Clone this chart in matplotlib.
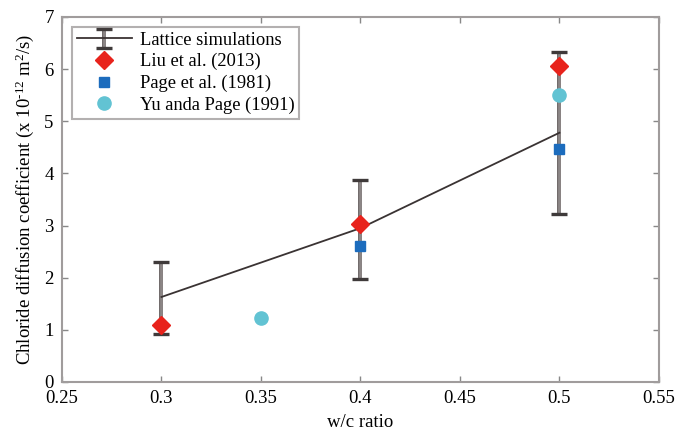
import matplotlib
matplotlib.use("Agg")
import matplotlib.pyplot as plt
import matplotlib.patheffects as pe

plt.rcParams['font.family'] = ['Liberation Serif', 'DejaVu Serif']
plt.rcParams['mathtext.fontset'] = 'custom'
plt.rcParams['mathtext.rm'] = 'Liberation Serif'
plt.rcParams['mathtext.it'] = 'Liberation Serif:italic'

# Lattice simulation results with error ranges
wc_sim = [0.3, 0.4, 0.5]
d_sim = [1.63, 2.95, 4.78]
d_sim_low = [0.92, 1.98, 3.22]
d_sim_high = [2.30, 3.87, 6.33]

# Experimental data
wc_liu = [0.3, 0.4, 0.5]
d_liu = [1.09, 3.03, 6.05]
wc_page = [0.4, 0.5]
d_page = [2.60, 4.47]
wc_yu = [0.35, 0.5]
d_yu = [1.23, 5.50]

xticks = [0.25, 0.3, 0.35, 0.4, 0.45, 0.5, 0.55]
xtick_labels = ["0.25", "0.3", "0.35", "0.4", "0.45", "0.5", "0.55"]
yticks = [0, 1, 2, 3, 4, 5, 6, 7]

fig = plt.figure(figsize=(6.76, 4.36), dpi=100)
ax = fig.add_axes([0.0917, 0.1239, 0.8831, 0.8372])

yerr = [[d - lo for d, lo in zip(d_sim, d_sim_low)],
        [hi - d for d, hi in zip(d_sim, d_sim_high)]]
line, caps, bars = ax.errorbar(wc_sim, d_sim, yerr=yerr, color='#3a3333', lw=1.3,
                               ecolor='#8c8686', elinewidth=2.0, capsize=6, capthick=2.4,
                               label='Lattice simulations', zorder=2)
for c in caps:
    c.set_markeredgecolor('#3f3a3a')
for b in bars:
    b.set_path_effects([pe.Stroke(linewidth=2.8, foreground='#6a6464'), pe.Normal()])

ax.plot(wc_liu, d_liu, linestyle='none', marker='D', ms=9.5, color='#e8231c',
        label='Liu et al. (2013)', zorder=4)
ax.plot(wc_page, d_page, linestyle='none', marker='s', ms=6.5, color='#1c6cbd',
        label='Page et al. (1981)', zorder=3)
ax.plot(wc_yu, d_yu, linestyle='none', marker='o', ms=9.5, color='#62c3d3',
        label='Yu anda Page (1991)', zorder=3)

ax.set_xlim(0.25, 0.55)
ax.set_ylim(0, 7)
ax.set_xticks(xticks)
ax.set_xticklabels(xtick_labels)
ax.set_yticks(yticks)
ax.tick_params(direction='in', top=True, right=True, length=4, width=1,
               color='#888888', labelsize=13.5, pad=6)
for s in ax.spines.values():
    s.set_color('#a09c9c')
    s.set_linewidth(1.5)

ax.set_xlabel('w/c ratio', fontsize=13.5, labelpad=5)
ax.set_ylabel(r'Chloride diffusion coefficient (x 10$^{\text{-12}}$ m$^{\text{2}}$/s)',
              fontsize=13.5, labelpad=6)

handles, labels = ax.get_legend_handles_labels()
order = [labels.index('Lattice simulations'), labels.index('Liu et al. (2013)'),
         labels.index('Page et al. (1981)'), labels.index('Yu anda Page (1991)')]
leg = ax.legend([handles[i] for i in order], [labels[i] for i in order],
                loc='upper left', fontsize=13.3, frameon=True, fancybox=False,
                edgecolor='#a09c9c', borderpad=0.25, labelspacing=0.24,
                handlelength=3.0, handletextpad=0.4, borderaxespad=0.55)
leg.get_frame().set_linewidth(1.5)

fig.savefig('out.png', dpi=100)
